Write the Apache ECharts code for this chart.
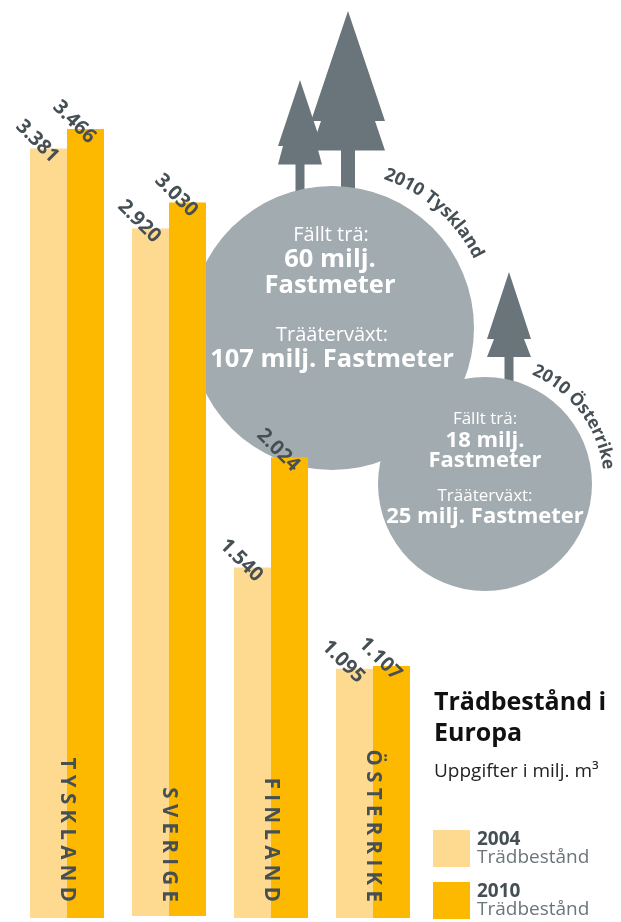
<!DOCTYPE html>
<html><head><meta charset="utf-8">
<style>html,body{margin:0;padding:0;background:#fff}#c{width:621px;height:922px}</style>
<script src="https://cdn.jsdelivr.net/npm/echarts@6/dist/echarts.min.js"></script>
</head><body><div id="c"></div>
<script>
const categories = ['T Y S K L A N D','S V E R I G E','F I N L A N D','Ö S T E R R I K E'];
const values2004 = [3381, 2920, 1540, 1095];
const values2010 = [3466, 3030, 2024, 1107];
const years = ['2004','2010'];
const colors = ['#FEDA90','#FDB900'];
const F = '"Open Sans", sans-serif';
const dark = '#454F54', grey = '#A2ABAF', treeC = '#69757B';

const chart = echarts.init(document.getElementById('c'), null, {renderer:'canvas'});
// Sverige is drawn to a slightly larger scale and baseline in the source graphic
const SV = 1;
const only = (arr, i) => arr.map((v, k) => (k === i ? v : null));
const except = (arr, i) => arr.map((v, k) => (k === i ? null : v));
const lab = {show:true, position:'top', distance:0, rotate:-45, offset:[-13,3], align:'center', verticalAlign:'middle',
  color:dark, fontFamily:F, fontWeight:700, fontSize:20,
  formatter:p => { const s = String(p.value); return s.slice(0,1)+'.'+s.slice(1); }};
const bar = (name, data, c, ax) => ({type:'bar', name, data, xAxisIndex:ax, yAxisIndex:ax, barWidth:37, barGap:0,
  itemStyle:{color:c}, label:lab, z:3, animation:false});

function tree(apexX, apexY, halfW, notch, y1, y2, trunkHalf, trunkEnd) {
  return [
    {type:'rect', z:0, shape:{x:apexX-trunkHalf, y:y2-1, width:trunkHalf*2, height:trunkEnd-y2+1}, style:{fill:treeC}},
    {type:'polygon', z:0, shape:{points:[[apexX,apexY],[apexX+halfW,y1],[apexX+notch,y1],[apexX+halfW,y2],[apexX-halfW,y2],[apexX-notch,y1],[apexX-halfW,y1]]}, style:{fill:treeC}}
  ];
}
function ctext(t, x, y, size, bold) {
  return {type:'text', z:1, x, y, style:{text:t, fill:'#fff', font:(bold?'700 ':'400 ')+size+'px '+F, align:'center', verticalAlign:'middle'}};
}
const mctx = document.createElement('canvas').getContext('2d');
function arcText(str, cx, cy, r, startDeg, size) {
  const font = '700 '+size+'px '+F; mctx.font = font;
  const out = []; let a = startDeg*Math.PI/180;
  for (const ch of str) {
    const w = mctx.measureText(ch).width + 0.2;
    const mid = a + w/2/r;
    out.push({type:'text', z:1, x:cx+r*Math.sin(mid), y:cy-r*Math.cos(mid), rotation:-mid,
      style:{text:ch, fill:dark, font, align:'center', verticalAlign:'middle'}});
    a += w/r;
  }
  return out;
}
const graphics = [
  ...tree(300,80,22,17,146,164.5,4.5,195),
  ...tree(348,11,37,27,121,150.5,7,190),
  ...tree(509,272,22,15,339,357,4.5,382),
  {type:'circle', z:0, shape:{cx:332,cy:328,r:142}, style:{fill:grey}},
  {type:'circle', z:0, shape:{cx:485,cy:484,r:107}, style:{fill:grey}},
  ctext('Fällt trä:',331,235,20,false), ctext('60 milj.',330,260,25.5,true), ctext('Fastmeter',330,286,25.5,true),
  ctext('Trääterväxt:',332,335,20,false), ctext('107 milj. Fastmeter',332,360,25.5,true),
  ctext('Fällt trä:',485,419,17,false), ctext('18 milj.',485,441,22,true), ctext('Fastmeter',485,461,22,true),
  ctext('Trääterväxt:',485,496,17,false), ctext('25 milj. Fastmeter',485,517,22,true),
  ...arcText('2010 Tyskland',332,328,163,19,18),
  ...arcText('2010 Österrike',485,484,124,23,17.5)
];

const axisX = (show) => ({type:'category', gridIndex:show?0:1, data:categories, z:10,
  axisLine:{show:false}, axisTick:{show:false},
  axisLabel:{show, inside:true, rotate:-90, margin:16, align:'right', verticalAlign:'middle', interval:0,
    padding:[6,0,0,0], color:dark, fontFamily:F, fontWeight:700, fontSize:20.5}});
chart.setOption({
  animation:false,
  title:{text:'Trädbestånd i\nEuropa', left:434, top:687, textStyle:{fontFamily:F, fontWeight:700, fontSize:25, lineHeight:31, color:'#111'},
    subtext:'Uppgifter i milj. m³', subtextStyle:{fontFamily:F, fontSize:19, color:'#222'}, itemGap:13, padding:0},
  legend:{left:433, top:830, orient:'vertical', itemWidth:37, itemHeight:37, itemGap:15, padding:0, icon:'rect', selectedMode:false, data:years,
    formatter:n => '{a|'+n+'}\n{b|Trädbestånd}',
    textStyle:{rich:{a:{fontFamily:F,fontWeight:700,fontSize:19,lineHeight:18,color:dark,padding:[0,0,0,2]},b:{fontFamily:F,fontWeight:400,fontSize:19,lineHeight:18,color:'#6B757A',padding:[0,0,0,2]}}}},
  grid:[{left:16,width:408,top:0,height:918},{left:16,width:408,top:0,height:918}],
  xAxis:[axisX(true), axisX(false)],
  yAxis:[{type:'value',gridIndex:0,min:0,max:4033,show:false},{type:'value',gridIndex:1,min:-8.5,max:3890,show:false}],
  series:[
    bar('2004',except(values2004,SV),colors[0],0), bar('2010',except(values2010,SV),colors[1],0),
    bar('2004',only(values2004,SV),colors[0],1), bar('2010',only(values2010,SV),colors[1],1)
  ],
  graphic:{elements:graphics}
});
</script></body></html>
